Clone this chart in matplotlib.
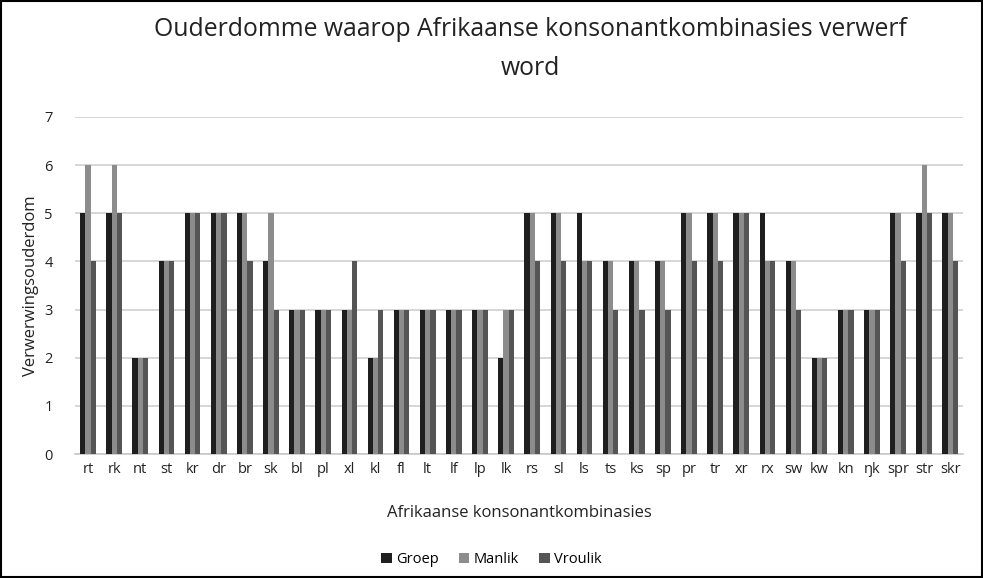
import matplotlib
matplotlib.use("Agg")
import matplotlib.pyplot as plt
import numpy as np
from matplotlib.patches import Rectangle

categories = ["rt", "rk", "nt", "st", "kr", "dr", "br", "sk", "bl", "pl", "xl", "kl",
              "fl", "lt", "lf", "lp", "lk", "rs", "sl", "ls", "ts", "ks", "sp", "pr",
              "tr", "xr", "rx", "sw", "kw", "kn", "ŋk", "spr", "str", "skr"]
groep   = [5, 5, 2, 4, 5, 5, 5, 4, 3, 3, 3, 2, 3, 3, 3, 3, 2, 5, 5, 5, 4, 4, 4, 5, 5, 5, 5, 4, 2, 3, 3, 5, 5, 5]
manlik  = [6, 6, 2, 4, 5, 5, 5, 5, 3, 3, 3, 2, 3, 3, 3, 3, 3, 5, 5, 4, 4, 4, 4, 5, 5, 5, 4, 4, 2, 3, 3, 5, 6, 5]
vroulik = [4, 5, 2, 4, 5, 5, 4, 3, 3, 3, 4, 3, 3, 3, 3, 3, 3, 4, 4, 4, 3, 3, 3, 4, 4, 5, 4, 3, 2, 3, 3, 4, 5, 4]
series_names = ["Groep", "Manlik", "Vroulik"]
colors = ["#1f1f1f", "#8c8c8c", "#555555"]
yticks = [0, 1, 2, 3, 4, 5, 6, 7]

plt.rcParams['font.family'] = ['Open Sans', 'DejaVu Sans']

fig = plt.figure(figsize=(9.83, 5.78), dpi=100)
ax = fig.add_axes([0.0763, 0.2145, 0.9037, 0.5831])

x = np.arange(len(categories))
w = 0.2
for i, (vals, name, c) in enumerate(zip([groep, manlik, vroulik], series_names, colors)):
    ax.bar(x + (i - 1) * w, vals, width=w, color=c, label=name, zorder=3)

ax.set_xlim(-0.5, len(categories) - 0.5)
ax.set_ylim(0, 7)
ax.set_yticks(yticks)
ax.set_xticks(x)
ax.set_xticklabels(categories)
ax.yaxis.grid(True, color="#d0d0d0", linewidth=1.2, zorder=0)
for s in ["top", "right", "left"]:
    ax.spines[s].set_visible(False)
ax.spines["bottom"].set_color("#c8c8c8")
ax.spines["bottom"].set_linewidth(1.2)
ax.tick_params(axis="both", length=0, labelsize=10.5, colors="#222222")
ax.tick_params(axis="x", pad=6)
ax.tick_params(axis="y", pad=16)

ax.set_xlabel("Afrikaanse konsonantkombinasies", fontsize=12, color="#222222", labelpad=20)
ax.set_ylabel("Verwerwingsouderdom", fontsize=12, color="#222222", labelpad=4)

fig.text(0.54, 0.915, "Ouderdomme waarop Afrikaanse konsonantkombinasies verwerf\nword",
         ha="center", va="center", fontsize=17.8, color="#222222", linespacing=1.75)

leg = fig.legend(loc="center", bbox_to_anchor=(0.5, 0.032), ncol=3, frameon=False,
                 fontsize=10.5, handlelength=0.7, handleheight=0.7, handletextpad=0.3,
                 columnspacing=1.4)

fig.patches.append(Rectangle((0.001, 0.001), 0.998, 0.998, transform=fig.transFigure,
                             fill=False, edgecolor="black", linewidth=1.5))

fig.savefig("out.png", dpi=100)
